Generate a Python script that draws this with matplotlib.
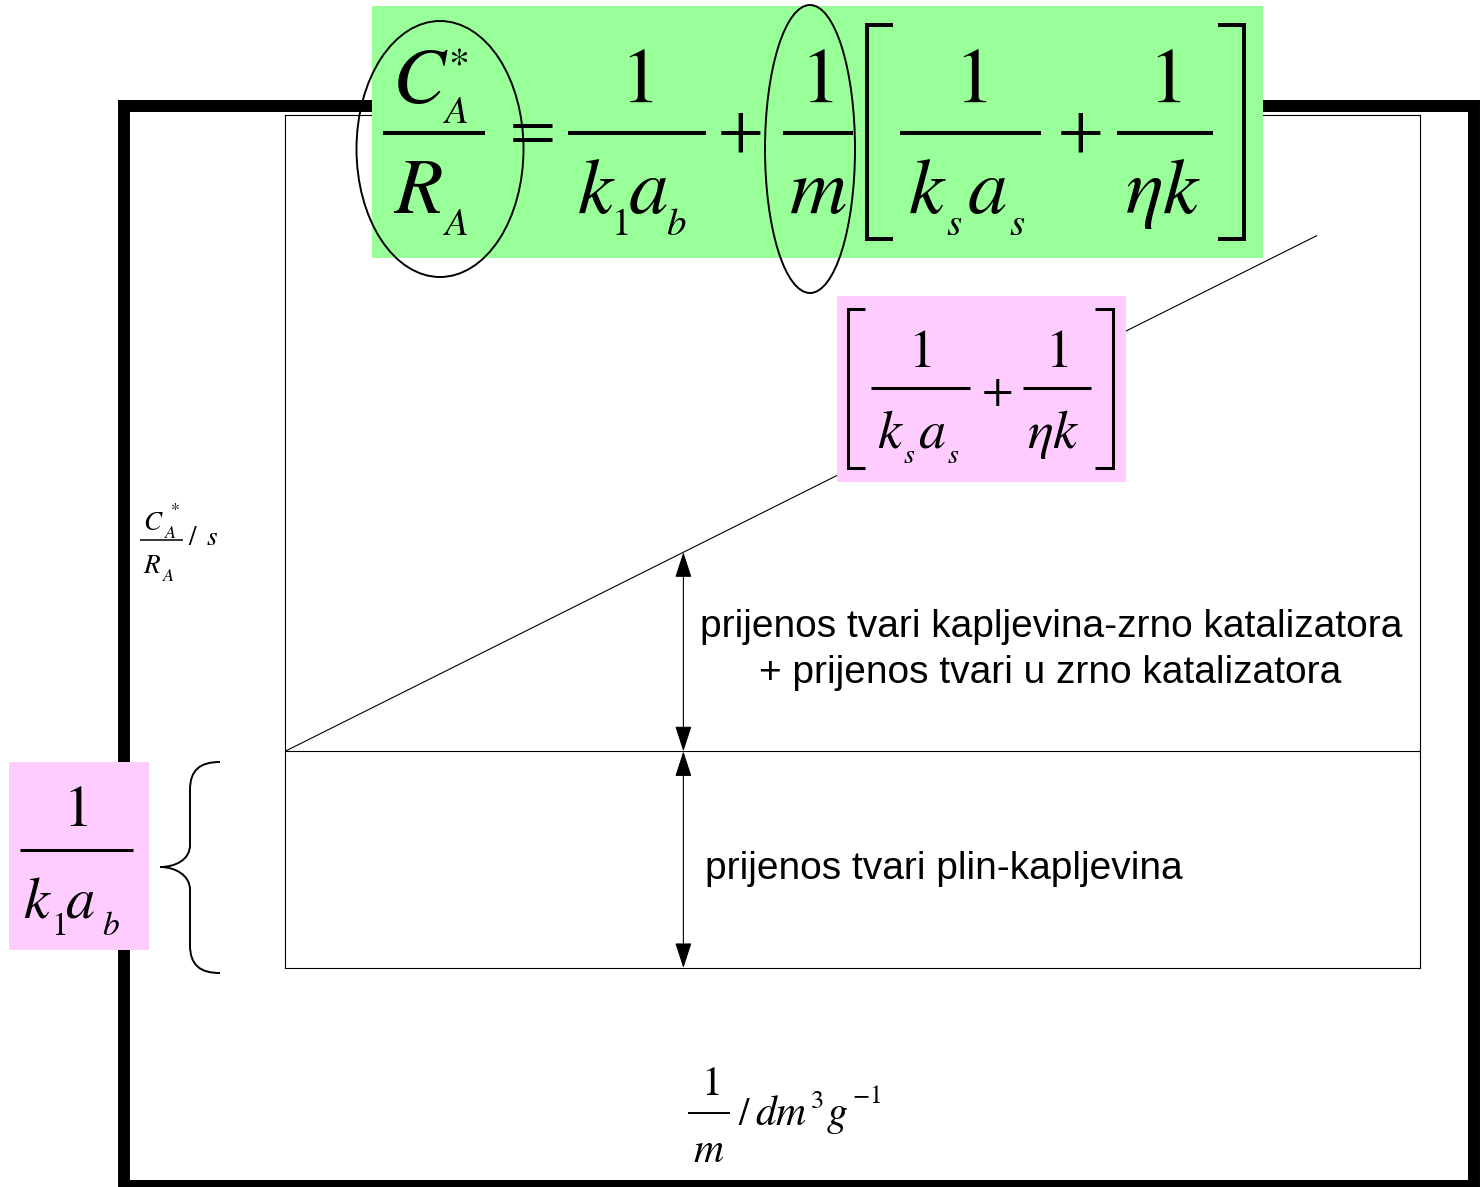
import numpy as np
import matplotlib.pyplot as plt
from matplotlib.patches import Rectangle, Ellipse, PathPatch
from matplotlib.path import Path

plt.rcParams['mathtext.fontset'] = 'stix'
plt.rcParams['font.family'] = ['Liberation Sans', 'DejaVu Sans']

W, H = 1483, 1187

# --- podaci dijagrama (1/m na x osi, C*/R na y osi, relativne jedinice) ---
x_range = [0.0, 1.0]
y_range = [0.0, 1.0]
intercept = 0.254          # 1/(k1 ab)
slope = 0.665              # 1/(ks as) + 1/(eta k)
x_line = np.array([0.0, 0.909])
x_arrow = 0.351

label_upper = ['prijenos tvari kapljevina-zrno katalizatora',
               '+ prijenos tvari u zrno katalizatora']
label_lower = 'prijenos tvari plin-kapljevina'

GREEN = '#99FF99'
PINK = '#FFCCFF'

fig = plt.figure(figsize=(W / 100, H / 100), dpi=100)

# unutarnji graf
ax = fig.add_axes([285 / W, 1 - 968 / H, 1135 / W, 853 / H])
ax.set_zorder(1)
ax.set_xlim(x_range)
ax.set_ylim(y_range)
ax.set_xticks([])
ax.set_yticks([])
for sp in ax.spines.values():
    sp.set_linewidth(0.8)
ax.plot(x_line, intercept + slope * x_line, color='k', lw=0.8)
ax.axhline(intercept, color='k', lw=0.8)
arr = dict(arrowstyle='<|-|>,head_length=0.4,head_width=0.13', mutation_scale=40,
           color='k', lw=0.8, shrinkA=0, shrinkB=0)
ax.annotate('', xy=(x_arrow, intercept), xytext=(x_arrow, intercept + slope * x_arrow),
            arrowprops=arr)
ax.annotate('', xy=(x_arrow, 0), xytext=(x_arrow, intercept), arrowprops=arr)

# sloj za okvir, formule i natpise (pikselne koordinate)
ov = fig.add_axes([0, 0, 1, 1])
ov.set_zorder(2)
ov.set_xlim(0, W)
ov.set_ylim(H, 0)
ov.axis('off')


def put(x, y, s, size, ha='left', va='baseline'):
    ov.text(x, y, s, fontsize=size, ha=ha, va=va, zorder=5)


def bar(x0, x1, y, lw):
    ov.plot([x0, x1], [y, y], color='k', lw=lw, solid_capstyle='butt', zorder=5)


def bracket(x, y0, y1, tick, lw):
    ov.plot([x + tick, x, x, x + tick], [y0, y0, y1, y1], color='k', lw=lw,
            solid_joinstyle='miter', solid_capstyle='butt', zorder=5)


# debeli vanjski okvir
ov.add_patch(Rectangle((124, 106), 1350, 1080, fill=False, lw=8.6, ec='k', zorder=0))

# obojane podloge
ov.add_patch(Rectangle((372, 6), 891, 252, fc=GREEN, ec='none', zorder=1))
ov.add_patch(Rectangle((837, 296), 289, 186, fc=PINK, ec='none', zorder=1))
ov.add_patch(Rectangle((9, 762), 140, 188, fc=PINK, ec='none', zorder=1))

# glavna jednadzba
S, s, op = 57, 28, 48
put(392, 103, r'$C$', S)
put(448, 44, r'$*$', 30, va='top')
put(443, 123, r'$A$', s)
bar(383, 485, 133, 2.9)
put(393, 213, r'$R$', S)
put(443, 235, r'$A$', s)
put(527, 131, r'$=$', op, ha='center', va='center')
put(637, 102, r'$1$', S, ha='center')
bar(568, 706, 133, 2.9)
put(577, 213, r'$k$', S)
put(611, 235, r'$1$', s)
put(628, 213, r'$a$', S)
put(666, 235, r'$b$', s)
put(739, 132, r'$+$', op, ha='center', va='center')
put(817, 102, r'$1$', S, ha='center')
bar(783, 853, 133, 2.9)
put(818, 213, r'$m$', S, ha='center')
bracket(867, 25, 239, 26, 2.9)
put(971, 102, r'$1$', S, ha='center')
bar(900, 1041, 133, 2.9)
put(908, 213, r'$k$', S)
put(946, 235, r'$s$', s)
put(967, 213, r'$a$', S)
put(1009, 235, r'$s$', s)
put(1079, 132, r'$+$', op, ha='center', va='center')
put(1165, 102, r'$1$', S, ha='center')
bar(1117, 1213, 133, 2.9)
put(1125, 213, r'$\eta k$', S)
bracket(1244, 25, 239, -26, 2.9)

ov.add_patch(Ellipse((440, 149), 167, 256, fill=False, ec='k', lw=1.4, zorder=6))
ov.add_patch(Ellipse((810, 149), 90, 288, fill=False, ec='k', lw=1.4, zorder=6))

# ruzicasta formula nagiba
P, p = 39, 20
bracket(848, 309, 468, 17, 2.2)
put(920, 367, r'$1$', P, ha='center')
bar(871, 970, 388, 2.2)
put(877, 448, r'$k$', P)
put(903, 463, r'$s$', p)
put(918, 448, r'$a$', P)
put(947, 463, r'$s$', p)
put(997, 392, r'$+$', 33, ha='center', va='center')
put(1057, 367, r'$1$', P, ha='center')
bar(1023, 1091, 388, 2.2)
put(1027, 448, r'$\eta k$', P)
bracket(1113, 309, 468, -18, 2.2)

# odsjecak 1/(k1 ab)
L, l = 42, 24
put(75, 826, r'$1$', L, ha='center')
bar(20, 133, 850, 2.2)
put(23, 918, r'$k$', L)
put(51, 935, r'$1$', l)
put(65, 918, r'$a$', L)
put(102, 935, r'$b$', l)

# viticasta zagrada
verts = [(220, 762), (200, 762), (190, 770), (190, 790),
         (190, 845),
         (190, 860), (175, 867), (160, 867),
         (175, 867), (190, 875), (190, 890),
         (190, 945),
         (190, 965), (200, 973), (220, 973)]
codes = [Path.MOVETO, Path.CURVE4, Path.CURVE4, Path.CURVE4,
         Path.LINETO,
         Path.CURVE4, Path.CURVE4, Path.CURVE4,
         Path.CURVE4, Path.CURVE4, Path.CURVE4,
         Path.LINETO,
         Path.CURVE4, Path.CURVE4, Path.CURVE4]
ov.add_patch(PathPatch(Path(verts, codes), fill=False, ec='k', lw=1.4, zorder=5))

# oznaka y osi
Y, y_ = 19.5, 13
put(143, 530, r'$C$', Y)
put(170, 500, r'$*$', y_, va='top')
put(164, 538, r'$A$', y_)
bar(140, 183, 540, 1.1)
put(143, 573, r'$R$', Y)
put(162, 581, r'$A$', y_)
put(188, 545, r'$/$', Y)
put(206, 545, r'$s$', Y)

# oznaka x osi
put(710, 1095, r'$1$', 30, ha='center')
bar(688, 730, 1113, 1.4)
put(709, 1162, r'$m$', 30, ha='center')
put(738, 1125, r'$/$', 27)
put(755, 1125, r'$dm$', 30)
put(810, 1108, r'$3$', 19)
put(826, 1125, r'$g$', 30)
put(852, 1103, r'$-1$', 18)

# opisni tekst
ov.text(1051, 637, label_upper[0], fontsize=28, ha='center', va='baseline', zorder=5)
ov.text(1050, 683, label_upper[1], fontsize=28, ha='center', va='baseline', zorder=5)
ov.text(705, 879, label_lower, fontsize=28, ha='left', va='baseline', zorder=5)

fig.savefig('out.png', dpi=100)
